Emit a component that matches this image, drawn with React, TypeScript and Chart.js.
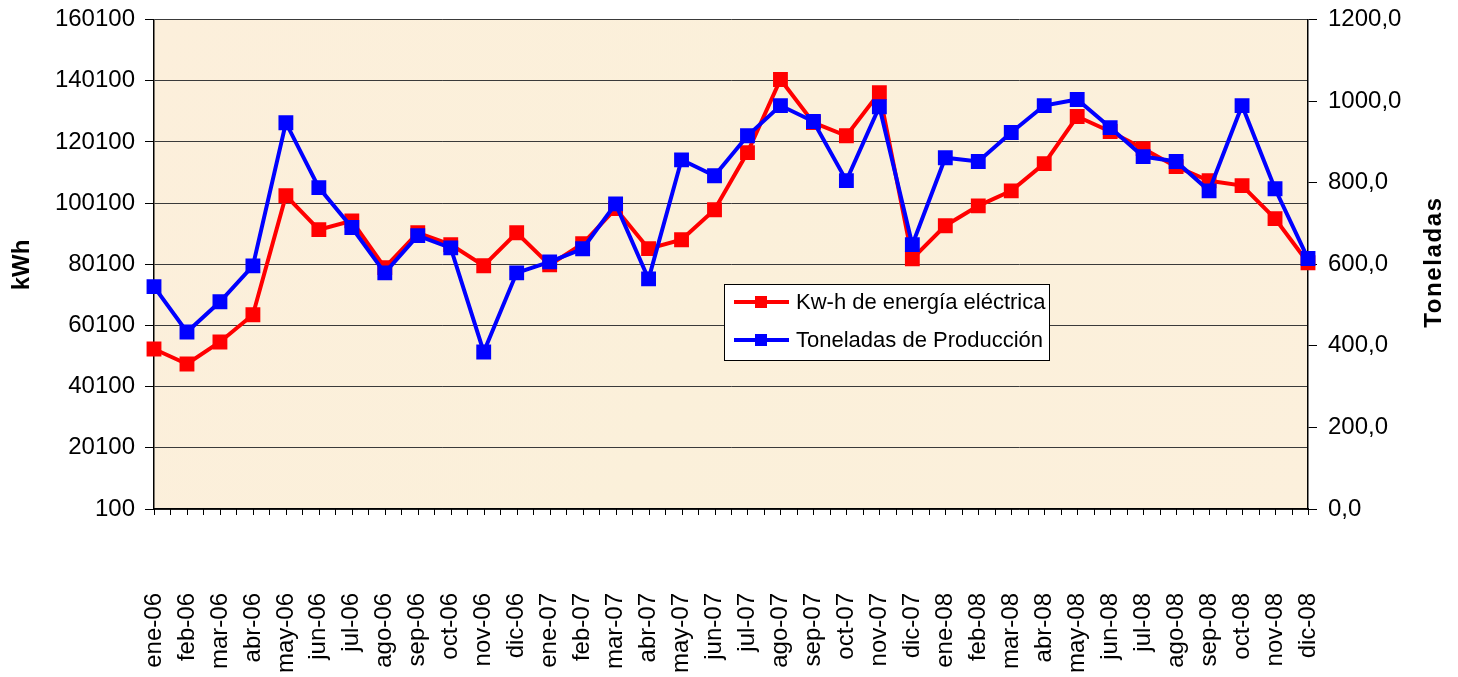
import React, { useEffect, useRef } from 'react';
import { Chart, registerables } from 'chart.js';

Chart.register(...registerables);

const months = [
  'ene-06', 'feb-06', 'mar-06', 'abr-06', 'may-06', 'jun-06', 'jul-06', 'ago-06', 'sep-06', 'oct-06', 'nov-06', 'dic-06',
  'ene-07', 'feb-07', 'mar-07', 'abr-07', 'may-07', 'jun-07', 'jul-07', 'ago-07', 'sep-07', 'oct-07', 'nov-07', 'dic-07',
  'ene-08', 'feb-08', 'mar-08', 'abr-08', 'may-08', 'jun-08', 'jul-08', 'ago-08', 'sep-08', 'oct-08', 'nov-08', 'dic-08',
];

const kwh = [
  52400, 47500, 54700, 63600, 102500, 91400, 94300, 79000, 90400, 86500, 79600, 90400,
  79900, 86800, 98300, 85200, 88100, 97900, 116600, 140500, 126400, 122100, 136200, 81900,
  92700, 99200, 104100, 113000, 128400, 123500, 117900, 112000, 107400, 105800, 95000, 80600,
];

const toneladas = [
  545, 434, 508, 596, 947, 788, 690, 579, 670, 640, 385, 579,
  606, 638, 748, 564, 856, 817, 915, 989, 950, 805, 986, 648,
  861, 852, 923, 989, 1004, 935, 864, 852, 780, 989, 785, 614,
];

const kwhAxis = { min: 100, max: 160100, step: 20000 };
const tonAxis = { min: 0, max: 1200, step: 200 };

const seriesNames = ['Kw-h de energía eléctrica', 'Toneladas de Producción'];
const axisTitles = { left: 'kWh', right: 'Toneladas' };

const FONT = '"Liberation Sans", Arial, sans-serif';
const RED = '#FF0000';
const BLUE = '#0000FF';

const decorPlugin = {
  id: 'decor',
  beforeDraw(chart: any) {
    const { ctx, chartArea } = chart;
    ctx.save();
    ctx.fillStyle = '#ffffff';
    ctx.fillRect(0, 0, chart.width, chart.height);
    const g = ctx.createLinearGradient(chartArea.left, chartArea.top, chartArea.right, chartArea.bottom);
    g.addColorStop(0, '#FCEFDB');
    g.addColorStop(0.5, '#FBF0DA');
    g.addColorStop(1, '#FCF0DC');
    ctx.fillStyle = g;
    ctx.fillRect(chartArea.left, chartArea.top, chartArea.right - chartArea.left, chartArea.bottom - chartArea.top);
    ctx.restore();
  },
  afterDraw(chart: any) {
    const { ctx, chartArea } = chart;
    const xs = chart.scales.x;
    ctx.save();
    // x tick marks (at categories and midpoints)
    ctx.strokeStyle = '#000';
    ctx.lineWidth = 1;
    ctx.beginPath();
    for (let i = 0; i < months.length; i++) {
      const x = Math.round(xs.getPixelForValue(i)) + 0.5;
      ctx.moveTo(x, chartArea.bottom);
      ctx.lineTo(x, chartArea.bottom + 6);
      if (i < months.length - 1) {
        const xm = Math.round((xs.getPixelForValue(i) + xs.getPixelForValue(i + 1)) / 2) + 0.5;
        ctx.moveTo(xm, chartArea.bottom);
        ctx.lineTo(xm, chartArea.bottom + 6);
      }
    }
    ctx.stroke();

    // axis titles
    ctx.fillStyle = '#000';
    ctx.font = `bold 24px ${FONT}`;
    ctx.textAlign = 'center';
    ctx.textBaseline = 'middle';
    ctx.save();
    ctx.translate(22, 265);
    ctx.rotate(-Math.PI / 2);
    ctx.fillText(axisTitles.left, 0, 0);
    ctx.restore();
    ctx.save();
    ctx.translate(1434, 262);
    ctx.rotate(-Math.PI / 2);
    try { (ctx as any).letterSpacing = '1.6px'; } catch (e) { /* ignore */ }
    ctx.fillText(axisTitles.right, 0, 0);
    try { (ctx as any).letterSpacing = '0px'; } catch (e) { /* ignore */ }
    ctx.restore();

    // legend
    const lx = 724, ly = 284, lw = 325, lh = 76;
    ctx.fillStyle = '#ffffff';
    ctx.fillRect(lx, ly, lw, lh);
    ctx.strokeStyle = '#000';
    ctx.lineWidth = 1;
    ctx.strokeRect(lx + 0.5, ly + 0.5, lw, lh);
    const colors = [RED, BLUE];
    const rows = [302, 340];
    ctx.font = `22px ${FONT}`;
    ctx.textAlign = 'left';
    ctx.textBaseline = 'middle';
    for (let k = 0; k < 2; k++) {
      const y = rows[k];
      ctx.strokeStyle = colors[k];
      ctx.lineWidth = 4;
      ctx.beginPath();
      ctx.moveTo(734, y);
      ctx.lineTo(789, y);
      ctx.stroke();
      ctx.fillStyle = colors[k];
      ctx.fillRect(755, y - 6, 12, 12);
      ctx.fillStyle = '#000';
      ctx.fillText(seriesNames[k], 796, y + 1);
    }
    ctx.restore();
  },
};

export default function App() {
  const ref = useRef<HTMLCanvasElement | null>(null);
  useEffect(() => {
    if (!ref.current) return;
    const chart = new Chart(ref.current, {
      type: 'line',
      data: {
        labels: months,
        datasets: [
          {
            label: seriesNames[0],
            data: kwh,
            yAxisID: 'y',
            borderColor: RED,
            backgroundColor: RED,
            borderWidth: 4,
            pointStyle: 'rect',
            pointRadius: 10.5,
            pointBorderWidth: 0,
            pointBackgroundColor: RED,
            tension: 0,
            order: 1,
          },
          {
            label: seriesNames[1],
            data: toneladas,
            yAxisID: 'y1',
            borderColor: BLUE,
            backgroundColor: BLUE,
            borderWidth: 4,
            pointStyle: 'rect',
            pointRadius: 10.5,
            pointBorderWidth: 0,
            pointBackgroundColor: BLUE,
            tension: 0,
            order: 0,
          },
        ],
      },
      options: {
        animation: false,
        responsive: false,
        devicePixelRatio: 1,
        layout: { padding: { top: 19.5, left: 0, right: 0, bottom: 0 } },
        plugins: { legend: { display: false }, tooltip: { enabled: false }, title: { display: false } },
        scales: {
          x: {
            type: 'category',
            offset: false,
            grid: { display: false, drawTicks: false },
            border: { display: true, color: '#000', width: 1.5 },
            ticks: {
              autoSkip: false,
              minRotation: 90,
              maxRotation: 90,
              padding: 84,
              color: '#000',
              font: { family: FONT, size: 24 },
            },
            afterFit: (s: any) => { s.height = 168; },
          },
          y: {
            type: 'linear',
            position: 'left',
            min: kwhAxis.min,
            max: kwhAxis.max,
            ticks: {
              stepSize: kwhAxis.step,
              padding: 10,
              color: '#000',
              font: { family: FONT, size: 24, lineHeight: 0.5 },
              callback: (v: any) => String(v),
            },
            grid: { color: '#3a3a3a', lineWidth: 1, tickLength: 9, tickColor: '#000' },
            border: { display: true, color: '#000', width: 1.5 },
            afterFit: (s: any) => { s.width = 154; },
          },
          y1: {
            type: 'linear',
            position: 'right',
            min: tonAxis.min,
            max: tonAxis.max,
            ticks: {
              stepSize: tonAxis.step,
              padding: 11,
              color: '#000',
              font: { family: FONT, size: 24, lineHeight: 0.5 },
              callback: (v: any) => Number(v).toFixed(1).replace('.', ','),
            },
            grid: { drawOnChartArea: false, tickLength: 9, tickColor: '#000' },
            border: { display: true, color: '#000', width: 1.5 },
            afterFit: (s: any) => { s.width = 150; },
          },
        },
      },
      plugins: [decorPlugin],
    });
    return () => chart.destroy();
  }, []);
  return (
    <div style={{ position: 'absolute', left: 0, top: 0, width: 1458, height: 677 }}>
      <canvas ref={ref} width={1458} height={677} style={{ display: 'block' }} />
    </div>
  );
}
